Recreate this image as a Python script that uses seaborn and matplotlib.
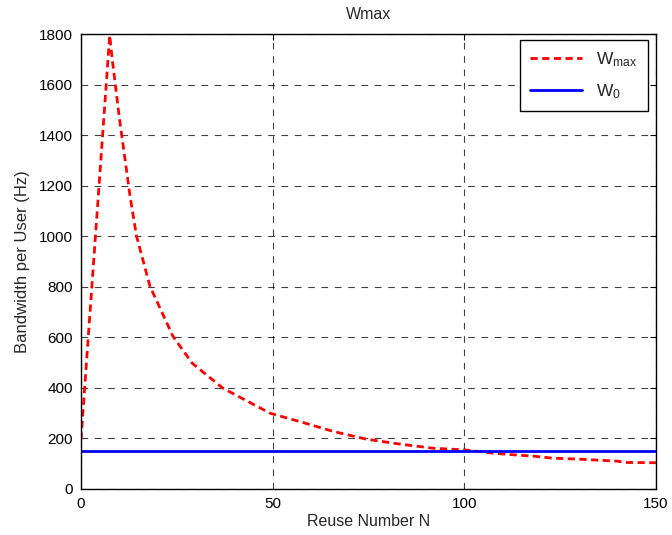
import matplotlib
matplotlib.use("Agg")
import matplotlib.pyplot as plt
import seaborn as sns
import pandas as pd

# Data
reuse_n = [0, 7.5, 8, 10, 12.8, 14.5, 18, 24, 29, 37, 49.3, 57, 66, 74.5, 83, 92,
           100, 108, 113, 118, 123, 130, 140, 142, 150]
w_max = [195, 1795, 1720, 1470, 1159, 1000, 802, 604, 498, 399, 300, 267, 227, 197,
         178, 161, 155, 141, 135, 130, 122, 118, 110, 105, 104]
w0_n = [0, 150]
w0_val = [152, 152]

x_ticks = [0, 50, 100, 150]
y_ticks = [0, 200, 400, 600, 800, 1000, 1200, 1400, 1600, 1800]

sns.set_style("white")
plt.rcParams['font.family'] = ['Liberation Sans', 'DejaVu Sans']
plt.rcParams['mathtext.fontset'] = 'custom'
plt.rcParams['mathtext.rm'] = 'Liberation Sans'
plt.rcParams['mathtext.it'] = 'Liberation Sans:italic'

df1 = pd.DataFrame({"N": reuse_n, "W": w_max})
df2 = pd.DataFrame({"N": w0_n, "W": w0_val})

fig = plt.figure(figsize=(6.72, 5.35), dpi=100)
ax = fig.add_axes([0.1205, 0.086, 0.8555, 0.8504])

sns.lineplot(data=df1, x="N", y="W", ax=ax, color="#ff0000", lw=2,
             linestyle=(0, (2.6, 1.6)), label=r"W$_{\mathrm{max}}$", estimator=None)
sns.lineplot(data=df2, x="N", y="W", ax=ax, color="#0000ff", lw=2,
             label=r"W$_{0}$", estimator=None)

ax.set_xlim(0, 150)
ax.set_ylim(0, 1800)
ax.set_xticks(x_ticks)
ax.set_yticks(y_ticks)
ax.grid(True, color="black", linestyle=(0, (6, 6)), linewidth=0.8, alpha=0.75)
ax.tick_params(direction="in", top=True, right=True, length=4, width=0.8,
               labelsize=11, colors="black", pad=6)
for s in ax.spines.values():
    s.set_color("black")
    s.set_linewidth(1.0)
ax.set_xlabel("Reuse Number N", fontsize=11.5, labelpad=2)
ax.set_ylabel("Bandwidth per User (Hz)", fontsize=12, labelpad=6)
ax.set_title("Wmax", fontsize=11.5, pad=11)

leg = ax.legend(loc="upper right", fontsize=12.5, frameon=True, fancybox=False,
                edgecolor="black", framealpha=1, handlelength=3.0,
                borderpad=0.6, labelspacing=0.75, borderaxespad=0,
                bbox_to_anchor=(0.986, 0.987))
leg.get_frame().set_linewidth(1.0)

fig.savefig("out.png", dpi=100)
